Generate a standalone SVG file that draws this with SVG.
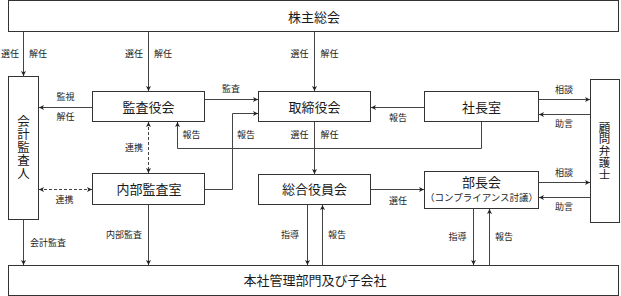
<svg xmlns="http://www.w3.org/2000/svg" width="621" height="296" viewBox="0 0 621 296">
<style>
.box{fill:#fff;stroke:#333;stroke-width:1}
.t{font-family:"Noto Sans CJK JP","Liberation Sans",sans-serif;fill:#1a1a1a;text-anchor:middle}
.big{font-size:13px}
.lab{font-size:9px}
.vt{writing-mode:vertical-rl;text-orientation:upright}
.ln{fill:none;stroke:#444;stroke-width:1}
.dash{stroke-dasharray:3 2}
</style>
<defs>
<marker id="ar" markerUnits="userSpaceOnUse" markerWidth="6" markerHeight="6" refX="5" refY="2.5" orient="auto-start-reverse">
<path d="M0,0 L5,2.5 L0,5 L1.3,2.5 z" fill="#222"/>
</marker>
</defs>
<rect width="621" height="296" fill="#fff"/>
<g id="connectors">
<path class="ln" d="M23.5,31.5 V76" marker-end="url(#ar)"/>
<path class="ln" d="M148.5,31.5 V91" marker-end="url(#ar)"/>
<path class="ln" d="M314.5,31.5 V91" marker-end="url(#ar)"/>
<path class="ln" d="M204.5,99.5 H258" marker-end="url(#ar)"/>
<path class="ln" d="M92.5,107.5 H39" marker-end="url(#ar)"/>
<path class="ln" d="M424.5,107.5 H371" marker-end="url(#ar)"/>
<path class="ln" d="M538.5,99.5 H590" marker-end="url(#ar)"/>
<path class="ln" d="M590.5,114.5 H539" marker-end="url(#ar)"/>
<path class="ln" d="M314.5,121.5 V174" marker-end="url(#ar)"/>
<path class="ln" d="M481.5,121.5 V148.5 H177.5 V122" marker-end="url(#ar)"/>
<path class="ln" d="M204.5,189.5 H232.5 V113.5 H258" marker-end="url(#ar)"/>
<path class="ln dash" d="M148.5,122 V173" marker-start="url(#ar)" marker-end="url(#ar)"/>
<path class="ln dash" d="M39,189.5 H92" marker-start="url(#ar)" marker-end="url(#ar)"/>
<path class="ln" d="M23.5,219.5 V265" marker-end="url(#ar)"/>
<path class="ln" d="M148.5,204.5 V265" marker-end="url(#ar)"/>
<path class="ln" d="M307.5,204.5 V265" marker-end="url(#ar)"/>
<path class="ln" d="M322.5,265.5 V205" marker-end="url(#ar)"/>
<path class="ln" d="M371,189.5 H424" marker-end="url(#ar)"/>
<path class="ln" d="M473.5,208.5 V265" marker-end="url(#ar)"/>
<path class="ln" d="M489.5,265.5 V209" marker-end="url(#ar)"/>
<path class="ln" d="M538.5,182.5 H590" marker-end="url(#ar)"/>
<path class="ln" d="M590.5,197.5 H539" marker-end="url(#ar)"/>
</g>
<g id="labels" class="t lab">
<text x="10" y="57">選任</text><text x="38" y="57">解任</text>
<text x="134" y="57">選任</text><text x="163" y="57">解任</text>
<text x="299.5" y="57">選任</text><text x="329.5" y="57">解任</text>
<text x="65.5" y="100">監視</text><text x="65.5" y="120">解任</text>
<text x="231" y="92">監査</text>
<text x="398" y="121">報告</text>
<text x="564" y="93">相談</text><text x="564" y="127">助言</text>
<text x="299.5" y="138">選任</text><text x="329.5" y="138">解任</text>
<text x="191.5" y="138">報告</text><text x="246" y="138">報告</text>
<text x="134" y="151">連携</text>
<text x="64.5" y="203">連携</text>
<text x="48" y="246">会計監査</text>
<text x="124" y="238">内部監査</text>
<text x="290" y="238">指導</text><text x="337" y="238">報告</text>
<text x="398" y="204">選任</text>
<text x="457.5" y="240">指導</text><text x="504" y="240">報告</text>
<text x="564" y="176">相談</text><text x="564" y="210">助言</text>
</g>
<g id="n_shareholders"><rect class="box" x="8.5" y="0.5" width="610" height="31"/><text class="t big" x="314" y="21.5">株主総会</text></g>
<g id="n_accounting_auditor"><rect class="box" x="8.5" y="76.5" width="30" height="143"/>
<text class="t vt" style="font-size:12.5px;letter-spacing:0.5px" x="23.5" y="147.5">会計監査人</text></g>
<g id="n_board_auditors"><rect class="box" x="92.5" y="91.5" width="112" height="30"/><text class="t big" x="148.5" y="111.5">監査役会</text></g>
<g id="n_board"><rect class="box" x="258.5" y="91.5" width="112" height="30"/><text class="t big" x="314.5" y="111.5">取締役会</text></g>
<g id="n_president"><rect class="box" x="424.5" y="91.5" width="114" height="30"/><text class="t big" x="481.5" y="111.5">社長室</text></g>
<g id="n_lawyer"><rect class="box" x="590.5" y="79.5" width="29" height="143"/>
<text class="t vt" style="font-size:11.5px;letter-spacing:0.3px" x="604.5" y="151">顧問弁護士</text></g>
<g id="n_internal_audit"><rect class="box" x="92.5" y="173.5" width="112" height="31"/><text class="t big" x="149" y="193.5">内部監査室</text></g>
<g id="n_exec"><rect class="box" x="258.5" y="174.5" width="112" height="30"/><text class="t big" x="314.5" y="193.5">総合役員会</text></g>
<g id="n_managers"><rect class="box" x="424.5" y="171.5" width="114" height="37"/><text class="t big" x="481.5" y="187">部長会</text><text class="t" style="font-size:9.5px" x="481.5" y="201">（コンプライアンス討議）</text></g>
<g id="n_company"><rect class="box" x="8.5" y="265.5" width="610" height="30"/><text class="t big" x="315" y="284.5">本社管理部門及び子会社</text></g>
</svg>
